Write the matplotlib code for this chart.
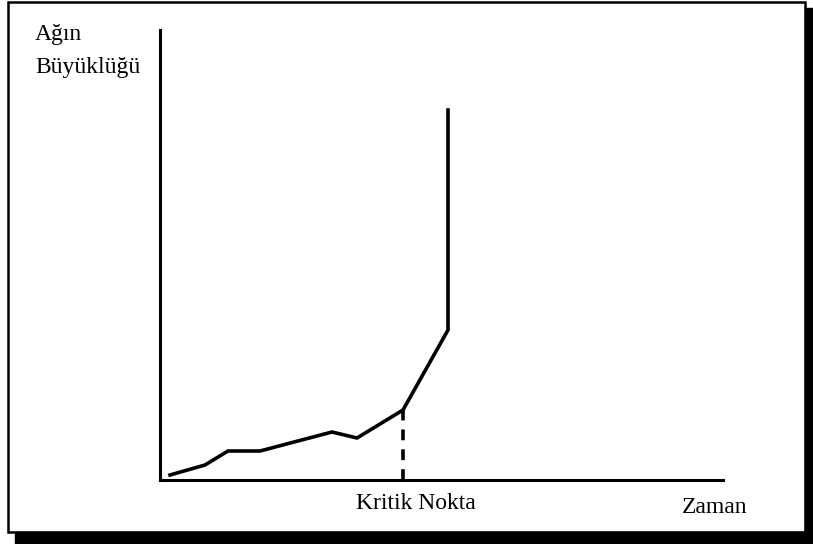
import matplotlib.pyplot as plt
from matplotlib.patches import Rectangle

# ---- data (time vs network size, arbitrary units)
zaman = [10, 45, 68, 100, 172, 197, 243, 288, 288]
buyukluk = [5, 15, 29, 29, 48, 42, 70, 150, 370]
kritik_x = 243
kritik_y = 70

plt.rcParams["font.family"] = ["Liberation Serif", "DejaVu Serif"]

W, H = 813, 544
fig = plt.figure(figsize=(W / 100, H / 100), dpi=100)

# ---- frame with shadow
fig.patches.append(Rectangle((15 / W, 0), (W - 15) / W, 12 / H,
                             transform=fig.transFigure, color="black", zorder=0))
fig.patches.append(Rectangle((805 / W, 0), 8 / W, (H - 8) / H,
                             transform=fig.transFigure, color="black", zorder=0))
fig.patches.append(Rectangle((8 / W, 12 / H), 797 / W, (H - 14) / H,
                             transform=fig.transFigure, fill=False,
                             edgecolor="black", linewidth=1.8, zorder=1))

# ---- axes (pixel-aligned)
x0, x1, y0, y1 = 160, 723, 480, 30
ax = fig.add_axes([x0 / W, (H - y0) / H, (x1 - x0) / W, (y0 - y1) / H])
ax.set_xlim(0, x1 - x0)
ax.set_ylim(0, y0 - y1)
for s in ["top", "right"]:
    ax.spines[s].set_visible(False)
for s in ["left", "bottom"]:
    ax.spines[s].set_linewidth(2.2)
ax.set_xticks([])
ax.set_yticks([])

ax.plot(zaman, buyukluk, color="black", linewidth=2.6, solid_joinstyle="miter")
ax.plot([kritik_x, kritik_x], [0, kritik_y], color="black", linewidth=2.6,
        linestyle=(0, (3, 2.5)))

# ---- labels
fs = 17
fig.text(35 / W, 1 - 40 / H, "Ağın", fontsize=fs, va="baseline", ha="left")
fig.text(35 / W, 1 - 73 / H, "Büyüklüğü", fontsize=fs, va="baseline", ha="left")
fig.text(416 / W, 1 - 509 / H, "Kritik Nokta", fontsize=fs, va="baseline", ha="center")
fig.text(715 / W, 1 - 513 / H, "Zaman", fontsize=fs, va="baseline", ha="center")

fig.savefig("out.png", dpi=100)
